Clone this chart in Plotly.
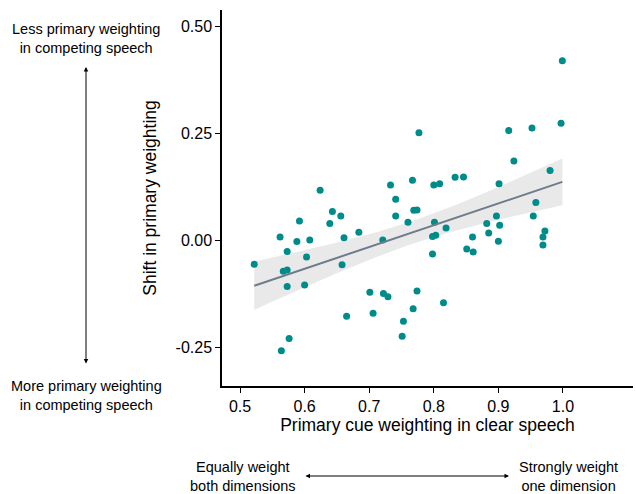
import numpy as np
import plotly.graph_objects as go

# Data
clear_weight = [0.999, 0.997, 0.777, 0.916, 0.952, 0.924, 0.980, 0.624, 0.733, 0.767,
                0.800, 0.809, 0.833, 0.846, 0.901, 0.741, 0.522, 0.562, 0.573, 0.567,
                0.573, 0.573, 0.576, 0.564, 0.588, 0.592, 0.608, 0.603, 0.600, 0.639,
                0.643, 0.656, 0.661, 0.658, 0.665, 0.684, 0.701, 0.706, 0.721, 0.722,
                0.729, 0.741, 0.760, 0.769, 0.774, 0.774, 0.768, 0.753, 0.751, 0.801,
                0.798, 0.803, 0.798, 0.819, 0.815, 0.851, 0.860, 0.861, 0.882, 0.885,
                0.897, 0.902, 0.900, 0.958, 0.954, 0.972, 0.969, 0.969]
shift_weight = [0.420, 0.274, 0.252, 0.257, 0.263, 0.186, 0.164, 0.118, 0.130, 0.141,
                0.130, 0.133, 0.148, 0.149, 0.133, 0.097, -0.055, 0.009, -0.025, -0.071,
                -0.068, -0.107, -0.228, -0.257, -0.002, 0.046, 0.002, -0.038, -0.103, 0.040,
                0.068, 0.058, 0.007, -0.056, -0.176, 0.020, -0.120, -0.169, 0.002, -0.123,
                -0.131, 0.058, 0.043, 0.071, 0.072, -0.117, -0.159, -0.188, -0.223, 0.043,
                0.010, 0.013, -0.031, 0.030, -0.145, -0.019, 0.009, -0.026, 0.040, 0.018,
                0.058, 0.036, -0.001, 0.089, 0.058, 0.023, 0.009, -0.010]

x_ticks = [0.5, 0.6, 0.7, 0.8, 0.9, 1.0]
x_tick_labels = ["0.5", "0.6", "0.7", "0.8", "0.9", "1.0"]
y_ticks = [0.50, 0.25, 0.00, -0.25]
y_tick_labels = ["0.50", "0.25", "0.00", "-0.25"]

x = np.array(clear_weight)
y = np.array(shift_weight)
n = len(x)
slope, intercept = np.polyfit(x, y, 1)
resid = y - (slope * x + intercept)
s = np.sqrt(np.sum(resid ** 2) / (n - 2))
xbar = x.mean()
sxx = np.sum((x - xbar) ** 2)
xs = np.linspace(x.min(), x.max(), 80)
ys = slope * xs + intercept
se = s * np.sqrt(1.0 / n + (xs - xbar) ** 2 / sxx)
tval = 1.997
upper = ys + tval * se
lower = ys - tval * se

FONT = "Liberation Sans, Arial, Helvetica, sans-serif"

fig = go.Figure()
fig.add_trace(go.Scatter(
    x=np.concatenate([xs, xs[::-1]]), y=np.concatenate([upper, lower[::-1]]),
    fill="toself", fillcolor="rgba(200,200,200,0.4)", line=dict(width=0),
    mode="lines", hoverinfo="skip", showlegend=False))
fig.add_trace(go.Scatter(
    x=x, y=y, mode="markers",
    marker=dict(color="#008B8B", size=7, line=dict(width=0)),
    showlegend=False))
fig.add_trace(go.Scatter(
    x=xs, y=ys, mode="lines", line=dict(color="#6E7B8B", width=2),
    showlegend=False))

L, R, T, B = 222, 3, 10, 108
W, H = 636, 494
pw = W - L - R
ph = H - T - B


def px(xpix):
    return (xpix - L) / pw


def py(ypix):
    return (H - B - ypix) / ph


ann_font = dict(family=FONT, size=14.5, color="black")
annotations = [
    dict(x=px(86), y=py(38), xref="paper", yref="paper", showarrow=False,
         text="Less primary weighting<br>in competing speech", font=ann_font,
         align="center", xanchor="center", yanchor="middle"),
    dict(x=px(86), y=py(395), xref="paper", yref="paper", showarrow=False,
         text="More primary weighting<br>in competing speech", font=ann_font,
         align="center", xanchor="center", yanchor="middle"),
    dict(x=px(243), y=py(476), xref="paper", yref="paper", showarrow=False,
         text="Equally weight<br>both dimensions", font=ann_font,
         align="center", xanchor="center", yanchor="middle"),
    dict(x=px(568), y=py(476), xref="paper", yref="paper", showarrow=False,
         text="Strongly weight<br>one dimension", font=ann_font,
         align="center", xanchor="center", yanchor="middle"),
    # vertical double arrow
    dict(x=px(86), y=py(67), xref="paper", yref="paper", ax=0, ay=298,
         axref="pixel", ayref="pixel", text="", showarrow=True,
         arrowhead=2, startarrowhead=2, arrowside="end+start",
         arrowsize=0.9, startarrowsize=0.9, arrowwidth=1, arrowcolor="black"),
    # horizontal double arrow
    dict(x=px(509), y=py(476), xref="paper", yref="paper", ax=-205, ay=0,
         axref="pixel", ayref="pixel", text="", showarrow=True,
         arrowhead=2, startarrowhead=2, arrowside="end+start",
         arrowsize=0.9, startarrowsize=0.9, arrowwidth=1, arrowcolor="black"),
]

fig.update_layout(
    width=W, height=H,
    margin=dict(l=L, r=R, t=T, b=B, pad=0),
    plot_bgcolor="white", paper_bgcolor="white",
    font=dict(family=FONT, color="black"),
    annotations=annotations,
    xaxis=dict(
        range=[0.4721, 1.1084], tickvals=x_ticks, ticktext=x_tick_labels,
        showgrid=False, zeroline=False, showline=True, linecolor="black", linewidth=1.5,
        ticks="outside", ticklen=5, tickwidth=1, tickcolor="black",
        tickfont=dict(family=FONT, size=16, color="black"),
        title=dict(text="Primary cue weighting in clear speech",
                   font=dict(family=FONT, size=17.5, color="black"), standoff=4),
    ),
    yaxis=dict(
        range=[-0.339, 0.5385], tickvals=y_ticks, ticktext=y_tick_labels,
        showgrid=False, zeroline=False, showline=True, linecolor="black", linewidth=1.5,
        ticks="outside", ticklen=5, tickwidth=1, tickcolor="black",
        tickfont=dict(family=FONT, size=16, color="black"),
        title=dict(text="Shift in primary weighting",
                   font=dict(family=FONT, size=17.5, color="black"), standoff=14),
    ),
)

fig.write_html("out.html", config={"displayModeBar": False},
               post_script="document.body.style.margin='0';document.body.style.overflow='hidden';")
